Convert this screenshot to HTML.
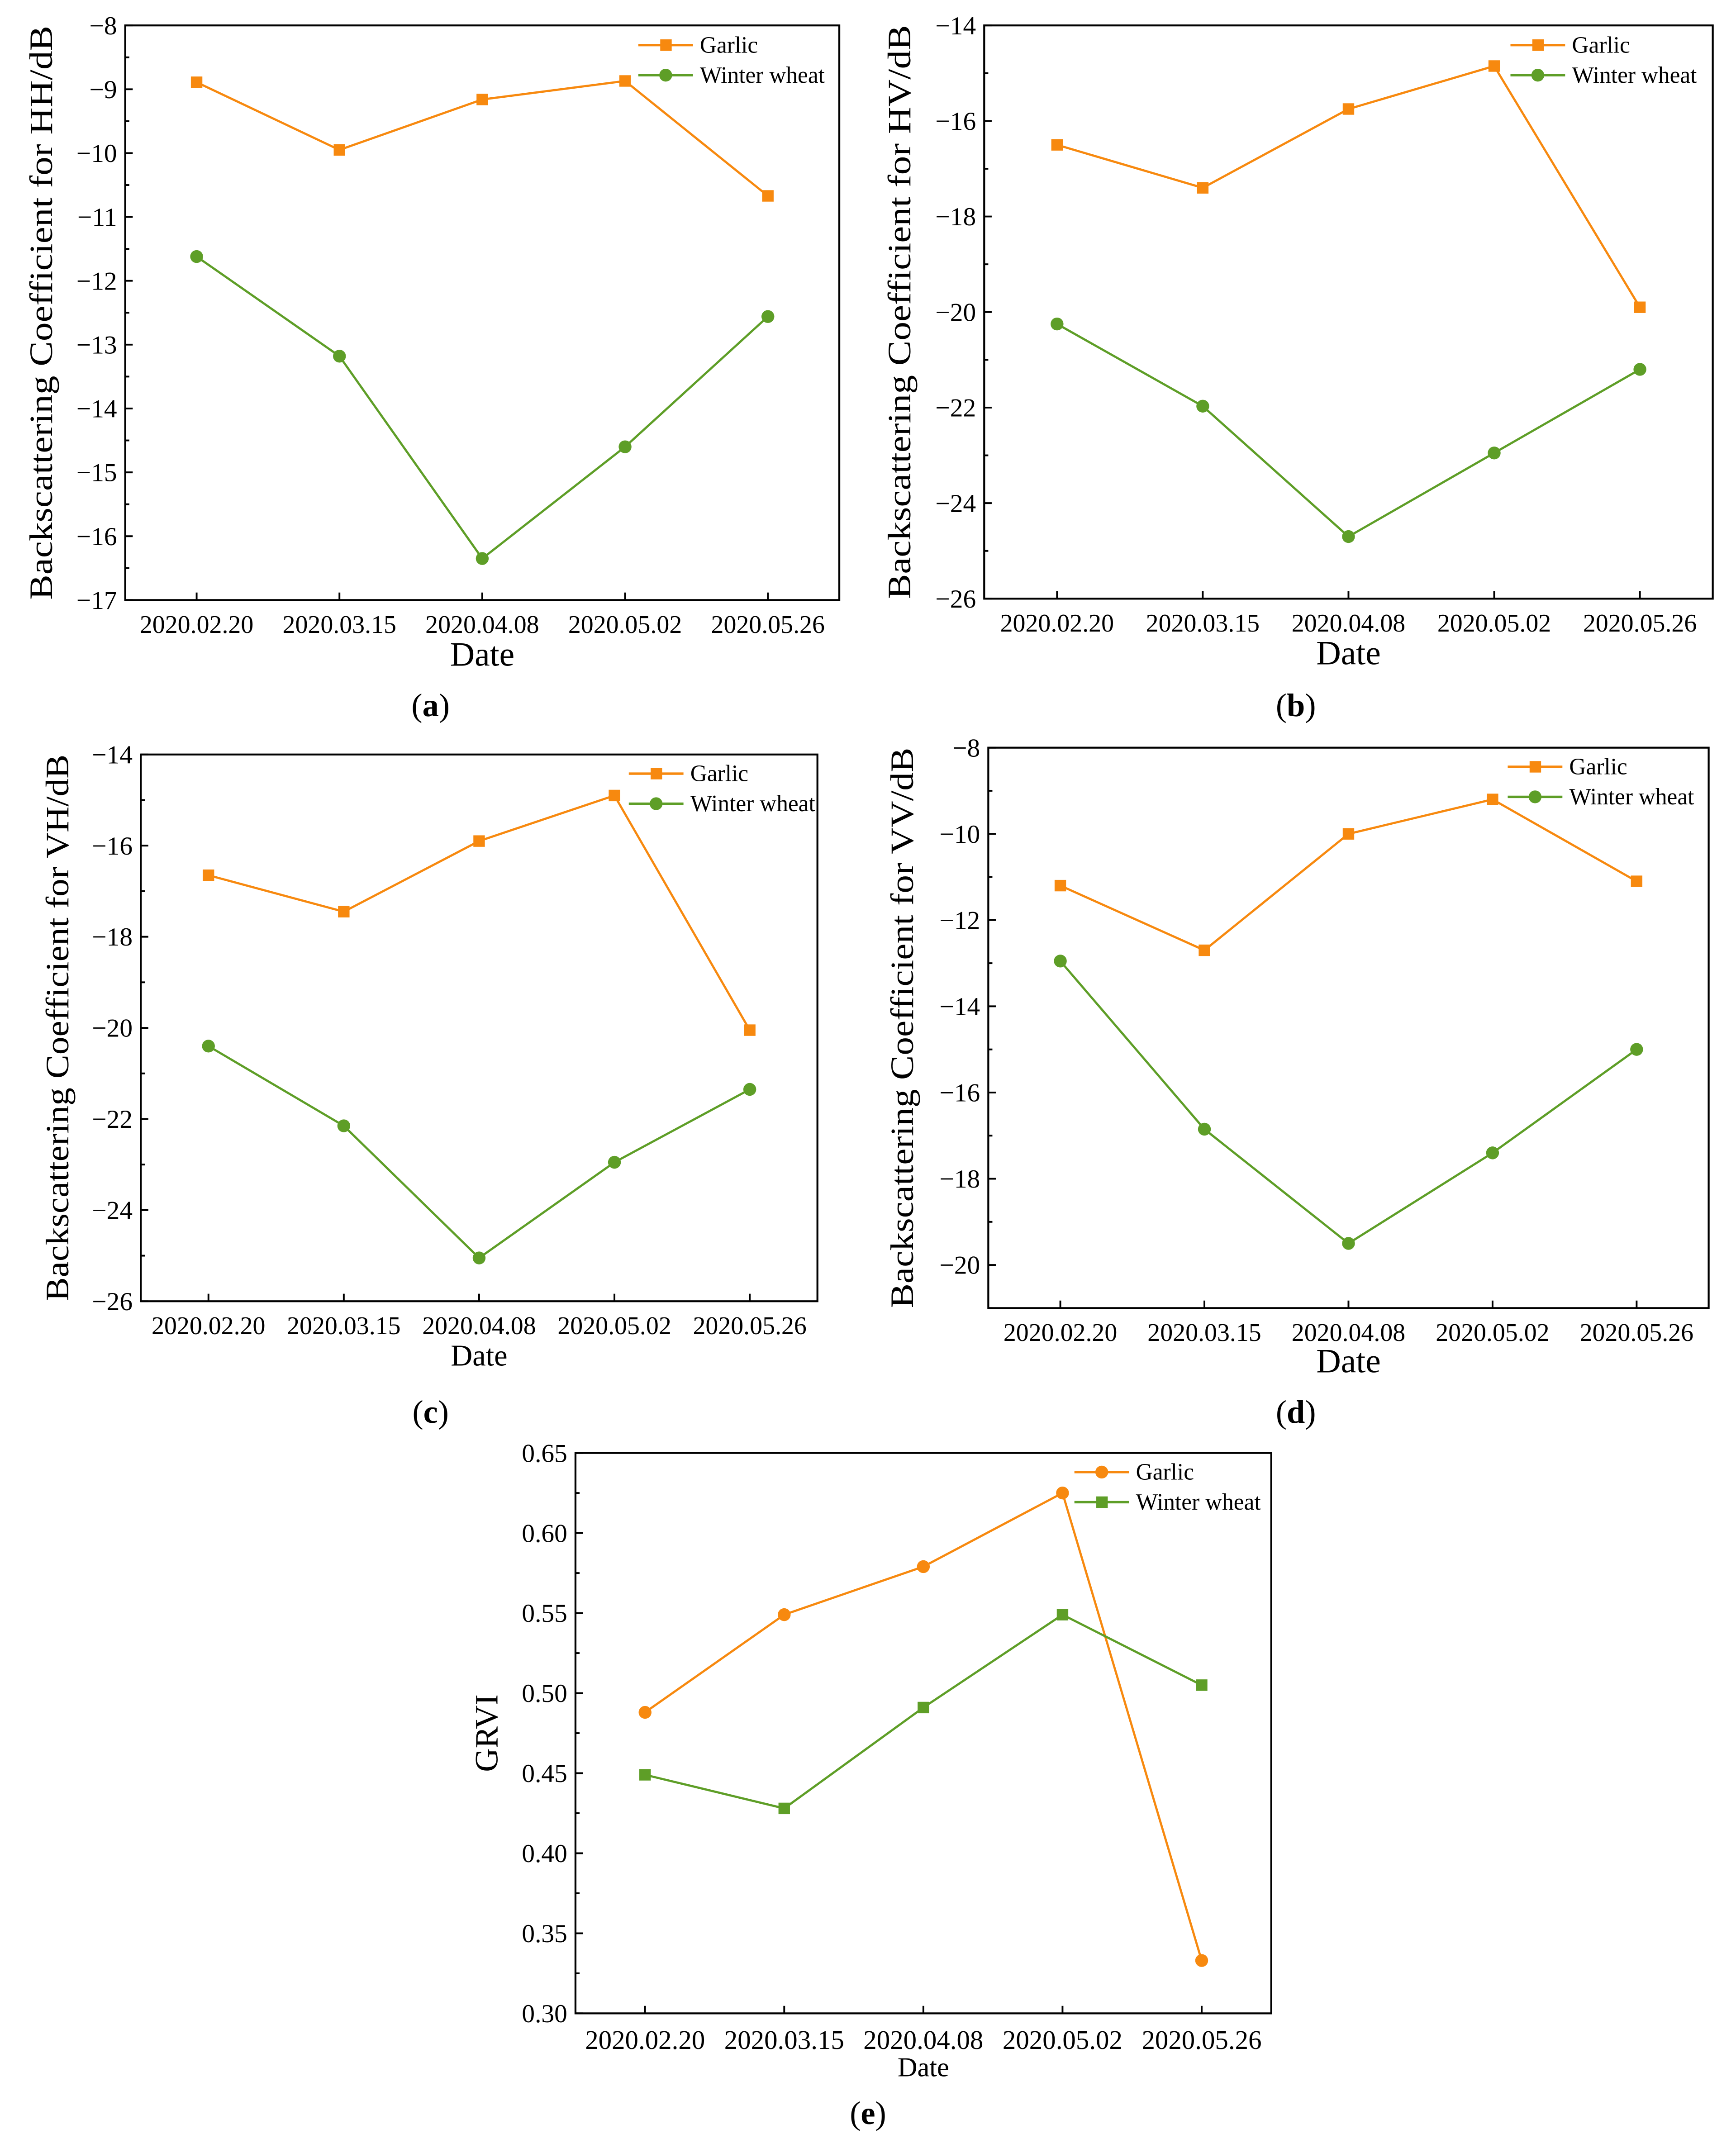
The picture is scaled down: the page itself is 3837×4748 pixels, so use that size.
<!DOCTYPE html>
<html><head><meta charset="utf-8"><style>
html,body{margin:0;padding:0;background:#fff;}
svg{display:block;}
svg text{font-family:"Liberation Serif","DejaVu Serif",serif !important;}
</style></head><body>
<svg id="fig" font-family="Liberation Serif, serif" width="3837" height="4748" viewBox="0 0 1270 1571.5" preserveAspectRatio="none" xmlns="http://www.w3.org/2000/svg">
<rect width="1270" height="1571.5" fill="#fff"/>
</svg>
<script>
const categories = ["2020.02.20","2020.03.15","2020.04.08","2020.05.02","2020.05.26"];
const hhGarlic = [-8.89,-9.95,-9.16,-8.87,-10.67];
const hhWheat = [-11.62,-13.18,-16.35,-14.6,-12.56];
const hvGarlic = [-16.5,-17.4,-15.75,-14.85,-19.9];
const hvWheat = [-20.25,-21.97,-24.7,-22.95,-21.2];
const vhGarlic = [-16.65,-17.45,-15.9,-14.9,-20.05];
const vhWheat = [-20.4,-22.15,-25.05,-22.95,-21.35];
const vvGarlic = [-11.2,-12.7,-10.0,-9.2,-11.1];
const vvWheat = [-12.95,-16.85,-19.5,-17.4,-15.0];
const grviGarlic = [0.488,0.549,0.579,0.625,0.333];
const grviWheat = [0.449,0.428,0.491,0.549,0.505];
const hhTicks = [-17,-16,-15,-14,-13,-12,-11,-10,-9,-8];
const hvTicks = [-26,-24,-22,-20,-18,-16,-14];
const vhTicks = [-26,-24,-22,-20,-18,-16,-14];
const vvTicks = [-20,-18,-16,-14,-12,-10,-8];
const grviTicks = [0.30,0.35,0.40,0.45,0.50,0.55,0.60,0.65];

const ORANGE="#F7890F", GREEN="#5E9E27";
const NS="http://www.w3.org/2000/svg";
const FF='"Liberation Serif", serif';
const svg=document.getElementById('fig');
function mk(tag,attrs,parent){const e=document.createElementNS(NS,tag);for(const k in attrs)e.setAttribute(k,attrs[k]);if(tag==='text'){e.setAttribute('font-family',FF);e.style.fontFamily=FF;}(parent||svg).appendChild(e);return e;}
function fmt(v,dec){let s=v.toFixed(dec);return s.replace('-','\u2212');}

function panel(c){
  const g=mk('g',{});
  
  
  const W=c.R-c.L, H=c.B-c.T;
  const xs=i=>c.L+(i+0.5)*W/categories.length;
  const ys=v=>c.B-(v-c.ymin)/(c.ymax-c.ymin)*H;
  for(let v=c.ymin; v<=c.ymax+1e-9; v+=c.minor){
    const isMajor=c.ticks.some(t=>Math.abs(t-v)<1e-6);
    const len=isMajor?5.5:3;
    const t=mk('line',{x1:c.L,x2:c.L+len,y1:ys(v),y2:ys(v),stroke:'#000','stroke-width':1.3},g);
    
    
  }
  c.ticks.forEach(v=>{
    const t=mk('text',{x:c.L-6,y:ys(v)+6.5,'text-anchor':'end','font-size':c.fs||19},g);
    t.textContent=fmt(v,c.dec);
    
    
  });
  categories.forEach((cat,i)=>{
    const t=mk('line',{x1:xs(i),x2:xs(i),y1:c.B,y2:c.B-5.5,stroke:'#000','stroke-width':1.3},g);
    
    
    const l=mk('text',{x:xs(i),y:c.B+c.tkOff,'text-anchor':'middle','font-size':c.xfs||18.5},g);
    l.textContent=cat;
    
    
  });
  const series=[{d:c.g,col:ORANGE,m:c.gm,n:'garlic'},{d:c.w,col:GREEN,m:c.wm,n:'winter-wheat'}];
  series.forEach(s=>{
    const pl=mk('polyline',{points:s.d.map((v,i)=>xs(i)+','+ys(v)).join(' '),fill:'none',stroke:s.col,'stroke-width':1.6},g);
    
    
    s.d.forEach((v,i)=>{
      let p;
      if(s.m==='sq') p=mk('rect',{x:xs(i)-4.2,y:ys(v)-4.2,width:8.4,height:8.4,fill:s.col},g);
      else p=mk('circle',{cx:xs(i),cy:ys(v),r:4.7,fill:s.col},g);
      
      
    });
  });
  const fr=mk('rect',{x:c.L,y:c.T,width:W,height:H,fill:'none',stroke:'#000','stroke-width':1.4},g);
  
  
  series.forEach((s,k)=>{
    const y=c.legY+k*22;
    const lg=mk('g',{},g);
    
    
    mk('line',{x1:c.legX,x2:c.legX+40,y1:y,y2:y,stroke:s.col,'stroke-width':1.8},lg);
    if(s.m==='sq') mk('rect',{x:c.legX+16,y:y-4.2,width:8.4,height:8.4,fill:s.col},lg);
    else mk('circle',{cx:c.legX+20,cy:y,r:4.7,fill:s.col},lg);
    const t=mk('text',{x:c.legX+45,y:y+5.5,'font-size':17},lg);
    t.textContent=k===0?'Garlic':'Winter wheat';
  });
  const yt=mk('text',{transform:`translate(${c.ytx},${(c.T+c.B)/2}) rotate(-90)`,'text-anchor':'middle','font-size':c.ytfs||24,x:0,y:8},g);
  yt.textContent=c.ytitle;
  if(c.ytLen){yt.setAttribute('textLength',c.ytLen);yt.setAttribute('lengthAdjust','spacingAndGlyphs');}
  
  
  const xt=mk('text',{x:(c.L+c.R)/2,y:c.B+c.dOff,'text-anchor':'middle','font-size':c.dfs||25},g);
  xt.textContent='Date';
  
  
  const pl=mk('text',{x:c.letX,y:c.letY,'text-anchor':'middle','font-size':24},g);
  pl.innerHTML='(<tspan font-weight="bold">'+c.letter+'</tspan>)';
  
  
}

panel({id:'hh',L:91.6,R:614,T:18.6,B:439,ymin:-17,ymax:-8,ticks:hhTicks,minor:0.5,dec:0,g:hhGarlic,w:hhWheat,gm:'sq',wm:'ci',
  legX:467,legY:33,ytx:30,ytitle:'Backscattering Coefficient for HH/dB',ytLen:420,tkOff:24,dOff:48,letX:315,letY:524,letter:'a'});
panel({id:'hv',L:720,R:1253,T:18.6,B:438,ymin:-26,ymax:-14,ticks:hvTicks,minor:1,dec:0,g:hvGarlic,w:hvWheat,gm:'sq',wm:'ci',
  legX:1105,legY:33,ytx:658,ytitle:'Backscattering Coefficient for HV/dB',ytLen:420,tkOff:24,dOff:48,letX:948,letY:524,letter:'b'});
panel({id:'vh',L:103,R:598,T:552,B:952,ymin:-26,ymax:-14,ticks:vhTicks,minor:1,dec:0,g:vhGarlic,w:vhWheat,gm:'sq',wm:'ci',
  legX:460,legY:566,ytx:42,ytitle:'Backscattering Coefficient for VH/dB',ytLen:400,tkOff:24,dOff:47,dfs:22,letX:315,letY:1041,letter:'c'});
panel({id:'vv',L:723,R:1250,T:547,B:957,ymin:-21,ymax:-8,ticks:vvTicks,minor:1,dec:0,g:vvGarlic,w:vvWheat,gm:'sq',wm:'ci',
  legX:1103,legY:561,ytx:660,ytitle:'Backscattering Coefficient for VV/dB',ytLen:410,tkOff:24,dOff:47,letX:948,letY:1041,letter:'d'});
panel({id:'grvi',L:421,R:930,T:1063,B:1473,ymin:0.30,ymax:0.65,ticks:grviTicks,minor:0.025,dec:2,g:grviGarlic,w:grviWheat,gm:'ci',wm:'sq',
  legX:786,legY:1077,ytx:356,ytitle:'GRVI',ytfs:24,tkOff:26,dOff:46,dfs:20,xfs:19.5,letX:635,letY:1554,letter:'e'});
</script>
</body></html>
